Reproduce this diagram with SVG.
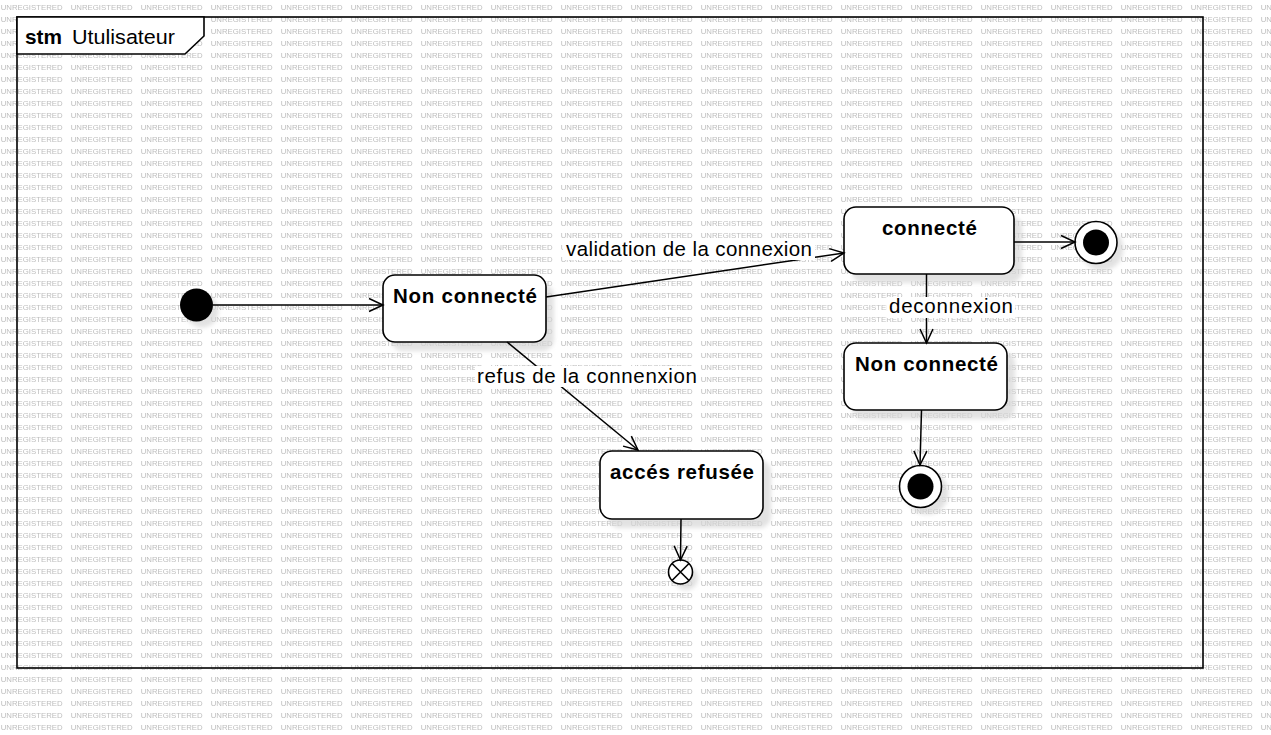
<svg xmlns="http://www.w3.org/2000/svg" width="1271" height="735" viewBox="0 0 1271 735">
<defs>
<style>
.wm{font-family:"Liberation Sans",Arial,sans-serif;font-size:7.8px;fill:#bdbdbd}
.node{fill:#ffffff;stroke:#000;stroke-width:1.6}
.shadow{fill:#d6d6d6;opacity:0.7;filter:url(#blur)}
.ntxt{font-family:"Liberation Sans",Arial,sans-serif;font-size:20.5px;font-weight:bold;fill:#000}
.lbl{font-family:"Liberation Sans",Arial,sans-serif;font-size:20.5px;fill:#000}
.lblbg{fill:#ffffff}
.edge{fill:none;stroke:#000;stroke-width:1.5;marker-end:url(#arr)}
.frame{fill:none;stroke:#000;stroke-width:1.6}
</style>
<pattern id="wmpat" patternUnits="userSpaceOnUse" x="0" y="0" width="70" height="12">
<text class="wm" x="0.7" y="10.2">UNREGISTERED</text>
</pattern>
<filter id="blur" x="-20%" y="-20%" width="140%" height="140%"><feGaussianBlur stdDeviation="2"/></filter>
<marker id="arr" markerUnits="userSpaceOnUse" markerWidth="18" markerHeight="16" refX="15" refY="8" orient="auto">
<path d="M1,1.5 L15,8 L1,14.5" fill="none" stroke="#000" stroke-width="1.5"/>
</marker>
</defs>
<rect x="0" y="0" width="1271" height="735" fill="#ffffff"/>
<rect x="0" y="0" width="1271" height="735" fill="url(#wmpat)"/>

<g id="frame">
<rect class="frame" x="17" y="17" width="1186" height="651"/>
<path d="M17,17 L204,17 L204,36 L185,54 L17,54 Z" fill="#ffffff" stroke="#000" stroke-width="1.6"/>
<text class="ntxt" x="25" y="44" textLength="37" lengthAdjust="spacingAndGlyphs">stm</text>
<text class="lbl" x="72" y="44" textLength="103" lengthAdjust="spacingAndGlyphs">Utulisateur</text>
</g>

<g id="initial">
<circle cx="202" cy="311" r="16.5" class="shadow"/>
<circle cx="196.5" cy="305" r="16.5" fill="#000"/>
</g>

<g id="nonConnecte1">
<rect class="shadow" x="391" y="284" width="163" height="67" rx="12"/>
<rect class="node" x="383" y="275" width="163" height="67" rx="12"/>
<text class="ntxt" x="393" y="303" textLength="144" lengthAdjust="spacing">Non connecté</text>
</g>

<g id="connecte">
<rect class="shadow" x="852" y="216" width="170" height="67" rx="12"/>
<rect class="node" x="844" y="207" width="170" height="67" rx="12"/>
<text class="ntxt" x="882" y="235" textLength="95" lengthAdjust="spacing">connecté</text>
</g>

<g id="nonConnecte2">
<rect class="shadow" x="852" y="352" width="163" height="67" rx="12"/>
<rect class="node" x="844" y="343" width="163" height="67" rx="12"/>
<text class="ntxt" x="855" y="371" textLength="143" lengthAdjust="spacing">Non connecté</text>
</g>

<g id="accesRefusee">
<rect class="shadow" x="608" y="460" width="163" height="68" rx="12"/>
<rect class="node" x="600" y="451" width="163" height="68" rx="12"/>
<text class="ntxt" x="610" y="479" textLength="144" lengthAdjust="spacing">accés refusée</text>
</g>

<g id="final1">
<circle cx="1102" cy="249" r="21.5" class="shadow"/>
<circle cx="1096" cy="242.5" r="21" fill="#fff" stroke="#000" stroke-width="1.6"/>
<circle cx="1096" cy="242.5" r="13" fill="#000"/>
</g>

<g id="final2">
<circle cx="927" cy="493" r="21.5" class="shadow"/>
<circle cx="920.5" cy="486.5" r="21" fill="#fff" stroke="#000" stroke-width="1.6"/>
<circle cx="920.5" cy="486.5" r="13" fill="#000"/>
</g>

<g id="terminate">
<circle cx="686" cy="578" r="12" class="shadow"/>
<circle cx="680.5" cy="572" r="12" fill="#fff" stroke="#000" stroke-width="1.6"/>
<path d="M672,563.5 L689,580.5 M689,563.5 L672,580.5" stroke="#000" stroke-width="1.6"/>
</g>

<g id="connectors">
<line class="edge" x1="213" y1="305" x2="383" y2="305"/>
<line class="edge" x1="546" y1="297" x2="844" y2="253"/>
<line class="edge" x1="1014" y1="242" x2="1075" y2="242"/>
<line class="edge" x1="926.5" y1="274" x2="926.5" y2="343"/>
<line class="edge" x1="921.5" y1="410" x2="920" y2="465"/>
<line class="edge" x1="507" y1="342" x2="638" y2="450"/>
<line class="edge" x1="681" y1="519" x2="680.5" y2="560"/>
<rect class="lblbg" x="563" y="239" width="252" height="21"/>
<text class="lbl" x="566" y="256" textLength="246" lengthAdjust="spacing">validation de la connexion</text>
<rect class="lblbg" x="887" y="297" width="128" height="21"/>
<text class="lbl" x="889" y="313" textLength="124" lengthAdjust="spacing">deconnexion</text>
<rect class="lblbg" x="475" y="366" width="225" height="21"/>
<text class="lbl" x="477" y="383" textLength="220" lengthAdjust="spacing">refus de la connenxion</text>
</g>
</svg>
